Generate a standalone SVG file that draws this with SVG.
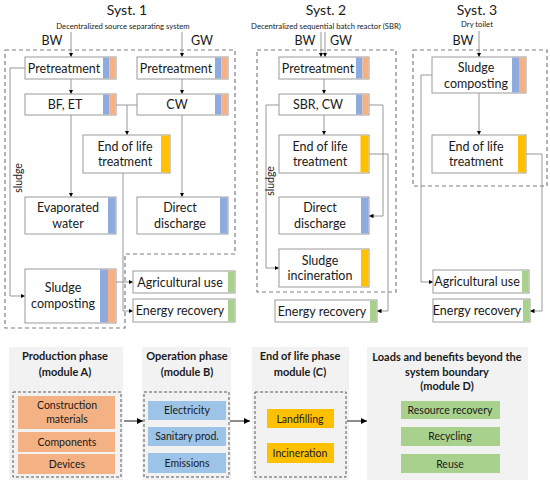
<svg xmlns="http://www.w3.org/2000/svg" width="550" height="486" viewBox="0 0 550 486">
<defs>
<marker id="ah" viewBox="0 0 6 6" refX="6" refY="3" markerWidth="4.5" markerHeight="4.5" orient="auto" markerUnits="userSpaceOnUse">
<path d="M0,0 L6,3 L0,6 Z" fill="#000"/>
</marker>
<marker id="ah2" viewBox="0 0 6 6" refX="6" refY="3" markerWidth="6" markerHeight="6" orient="auto" markerUnits="userSpaceOnUse">
<path d="M0,0 L6,3 L0,6 Z" fill="#000"/>
</marker>
<style>
text{font-family:Lato,"Open Sans","Liberation Sans",sans-serif;fill:#1a1a1a;text-anchor:middle}
.t{font-size:12.5px}
.title{font-size:14px}
.sub{font-size:7.7px}
.io{font-size:12.5px}
.box{fill:#fff;stroke:#9a9a9a;stroke-width:1}
.gbox{fill:#fff;stroke:#9a9a9a;stroke-width:1}
.b{fill:#8faadc}
.o{fill:#f4b183}
.y{fill:#ffc000}
.g{fill:#a9d18e}
.bnd{fill:none;stroke:#7f7f7f;stroke-width:1.2;stroke-dasharray:4,3}
.c{fill:none;stroke:#8c8c8c;stroke-width:0.9}
.ca{fill:none;stroke:#8c8c8c;stroke-width:0.9;marker-end:url(#ah)}
.panel{fill:#f2f2f2}
.dbox{fill:none;stroke:#595959;stroke-width:1;stroke-dasharray:3,2}
.mt{font-size:11px;font-weight:bold}
.mi{font-size:10.5px}
.ob{fill:#f4b183}
.bb{fill:#9dc3e6}
.yb{fill:#ffc000}
.gb{fill:#a9d18e}
.arr{stroke:#1a1a1a;stroke-width:1;marker-end:url(#ah2)}
.sl{font-size:10.5px}
</style>
</defs>
<rect width="550" height="486" fill="#fff"/>

<!-- Titles -->
<text class="title" x="127" y="15">Syst. 1</text>
<text class="sub" x="123" y="29">Decentralized source separating system</text>
<text class="io" x="52" y="45">BW</text>
<text class="io" x="202" y="45">GW</text>
<text class="title" x="326" y="15">Syst. 2</text>
<text class="sub" x="326" y="29">Decentralized sequential batch reactor (SBR)</text>
<text class="io" x="305" y="45">BW</text>
<text class="io" x="341" y="45">GW</text>
<text class="title" x="477" y="15">Syst. 3</text>
<text class="sub" x="477" y="27">Dry toilet</text>
<text class="io" x="463" y="45">BW</text>

<!-- Boundaries -->
<path class="bnd" d="M5,50 H235 V254 H125 V328 H5 Z"/>
<rect class="bnd" x="257" y="50" width="139" height="242"/>
<rect class="bnd" x="413" y="50" width="134" height="136"/>

<!-- Connectors -->
<g id="connectors">
<!-- Syst 1 -->
<path class="ca" d="M71,32 V57"/>
<path class="ca" d="M182,32 V57"/>
<path class="ca" d="M71,79 V94"/>
<path class="ca" d="M182,79 V94"/>
<path class="c" d="M116,105 H137"/>
<path class="ca" d="M127,105 V135"/>
<path class="ca" d="M71,115 V197"/>
<path class="ca" d="M182,115 V197"/>
<path class="ca" d="M25,68 H10 V296 H25"/>
<path class="ca" d="M123,173 V311 H133"/>
<path class="ca" d="M116,282 H133"/>
<!-- Syst 2 -->
<path class="ca" d="M321,32 V57"/>
<path class="ca" d="M325,32 V57"/>
<path class="ca" d="M324,79 V94"/>
<path class="ca" d="M324,115 V135"/>
<path class="ca" d="M279,105 H266 V268 H279"/>
<path class="ca" d="M369,105 H383 V216 H369"/>
<path class="ca" d="M369,154 H388 V311 H377"/>
<!-- Syst 3 -->
<path class="ca" d="M479,31 V57"/>
<path class="ca" d="M479,93 V135"/>
<path class="ca" d="M432,75 H421 V282 H433"/>
<path class="ca" d="M526,154 H542 V311 H530"/>
</g>

<text class="sl" transform="translate(22,178) rotate(-90)">sludge</text>
<text class="sl" transform="translate(274,181) rotate(-90)">sludge</text>

<!-- Syst 1 nodes -->
<g id="s1-pre-bw"><rect class="box" x="25" y="57" width="91" height="22"/><rect class="b" x="103" y="57.5" width="6.5" height="21"/><rect class="o" x="109.5" y="57.5" width="6" height="21"/><text class="t" x="64" y="72.5">Pretreatment</text></g>
<g id="s1-pre-gw"><rect class="box" x="137" y="57" width="91" height="22"/><rect class="b" x="215" y="57.5" width="6.5" height="21"/><rect class="o" x="221.5" y="57.5" width="6" height="21"/><text class="t" x="176" y="72.5">Pretreatment</text></g>
<g id="s1-bfet"><rect class="box" x="25" y="94" width="91" height="21"/><rect class="b" x="103" y="94.5" width="6.5" height="20"/><rect class="o" x="109.5" y="94.5" width="6" height="20"/><text class="t" x="65" y="109">BF, ET</text></g>
<g id="s1-cw"><rect class="box" x="137" y="94" width="91" height="21"/><rect class="b" x="215" y="94.5" width="6.5" height="20"/><rect class="o" x="221.5" y="94.5" width="6" height="20"/><text class="t" x="177" y="109">CW</text></g>
<g id="s1-eol"><rect class="box" x="83" y="135" width="87" height="38"/><rect class="y" x="161" y="135.5" width="8.5" height="37"/><text class="t" x="125" y="150.5">End of life</text><text class="t" x="125" y="166">treatment</text></g>
<g id="s1-evap"><rect class="box" x="25" y="197" width="91" height="37"/><rect class="b" x="108" y="197.5" width="7.5" height="36"/><text class="t" x="68" y="212">Evaporated</text><text class="t" x="68" y="227.5">water</text></g>
<g id="s1-dd"><rect class="box" x="137" y="197" width="91" height="37"/><rect class="b" x="220" y="197.5" width="7.5" height="36"/><text class="t" x="180" y="212">Direct</text><text class="t" x="180" y="227.5">discharge</text></g>
<g id="s1-sc"><rect class="box" x="25" y="269" width="91" height="54"/><rect class="b" x="100" y="269.5" width="8" height="53"/><rect class="o" x="108" y="269.5" width="7.5" height="53"/><text class="t" x="63" y="292">Sludge</text><text class="t" x="63" y="308">composting</text></g>
<g id="s1-agri"><rect class="gbox" x="133" y="271" width="102" height="22"/><rect class="g" x="228" y="271.5" width="6.5" height="21"/><text class="t" x="180" y="286.5">Agricultural use</text></g>
<g id="s1-er"><rect class="gbox" x="133" y="299" width="102" height="23"/><rect class="g" x="228" y="299.5" width="6.5" height="22"/><text class="t" x="180" y="315">Energy recovery</text></g>

<!-- Syst 2 nodes -->
<g id="s2-pre"><rect class="box" x="279" y="57" width="90" height="22"/><rect class="b" x="356" y="57.5" width="6.5" height="21"/><rect class="o" x="362.5" y="57.5" width="6" height="21"/><text class="t" x="318" y="72.5">Pretreatment</text></g>
<g id="s2-sbr"><rect class="box" x="279" y="94" width="90" height="21"/><rect class="b" x="356" y="94.5" width="6.5" height="20"/><rect class="o" x="362.5" y="94.5" width="6" height="20"/><text class="t" x="318" y="109">SBR, CW</text></g>
<g id="s2-eol"><rect class="box" x="279" y="135" width="90" height="38"/><rect class="y" x="360.5" y="135.5" width="8" height="37"/><text class="t" x="320" y="150.5">End of life</text><text class="t" x="320" y="166">treatment</text></g>
<g id="s2-dd"><rect class="box" x="279" y="197" width="90" height="37"/><rect class="b" x="361" y="197.5" width="7.5" height="36"/><text class="t" x="320" y="212">Direct</text><text class="t" x="320" y="227.5">discharge</text></g>
<g id="s2-si"><rect class="box" x="279" y="249" width="90" height="38"/><rect class="y" x="361" y="249.5" width="7.5" height="37"/><text class="t" x="320" y="264.5">Sludge</text><text class="t" x="320" y="280">incineration</text></g>
<g id="s2-er"><rect class="gbox" x="275" y="300" width="102" height="22"/><rect class="g" x="370" y="300.5" width="6.5" height="21"/><text class="t" x="322" y="315.5">Energy recovery</text></g>

<!-- Syst 3 nodes -->
<g id="s3-sc"><rect class="box" x="432" y="57" width="94" height="36"/><rect class="b" x="512" y="57.5" width="7" height="35"/><rect class="o" x="519" y="57.5" width="6.5" height="35"/><text class="t" x="476" y="72">Sludge</text><text class="t" x="476" y="87.5">composting</text></g>
<g id="s3-eol"><rect class="box" x="432" y="135" width="94" height="38"/><rect class="y" x="518" y="135.5" width="7.5" height="37"/><text class="t" x="476" y="150.5">End of life</text><text class="t" x="476" y="166">treatment</text></g>
<g id="s3-agri"><rect class="gbox" x="433" y="270" width="96" height="23"/><rect class="g" x="522" y="270.5" width="6.5" height="22"/><text class="t" x="477" y="286">Agricultural use</text></g>
<g id="s3-er"><rect class="gbox" x="433" y="299" width="97" height="23"/><rect class="g" x="523" y="299.5" width="6.5" height="22"/><text class="t" x="477" y="315">Energy recovery</text></g>

<!-- Bottom modules -->
<g id="module-a">
<rect class="panel" x="9" y="347" width="114" height="133"/>
<text class="mt" x="65" y="360">Production phase</text>
<text class="mt" x="65" y="376">(module A)</text>
<rect class="dbox" x="13" y="392" width="108" height="85"/>
<rect class="ob" x="18" y="396" width="97" height="33"/>
<text class="mi" x="67" y="409">Construction</text>
<text class="mi" x="67" y="423">materials</text>
<rect class="ob" x="18" y="432" width="97" height="20"/>
<text class="mi" x="67" y="446">Components</text>
<rect class="ob" x="18" y="454" width="97" height="20"/>
<text class="mi" x="67" y="468">Devices</text>
</g>
<g id="module-b">
<rect class="panel" x="142" y="347" width="89" height="133"/>
<text class="mt" x="187" y="360">Operation phase</text>
<text class="mt" x="187" y="376">(module B)</text>
<rect class="dbox" x="144" y="392" width="85" height="85"/>
<rect class="bb" x="148" y="401" width="78" height="19"/>
<text class="mi" x="187" y="414">Electricity</text>
<rect class="bb" x="148" y="427" width="78" height="19"/>
<text class="mi" x="187" y="440">Sanitary prod.</text>
<rect class="bb" x="148" y="453" width="78" height="20"/>
<text class="mi" x="187" y="467">Emissions</text>
</g>
<g id="module-c">
<rect class="panel" x="252" y="347" width="97" height="133"/>
<text class="mt" x="300" y="360">End of life phase</text>
<text class="mt" x="300" y="376">module (C)</text>
<rect class="dbox" x="255" y="392" width="91" height="85"/>
<rect class="yb" x="267" y="409" width="67" height="19"/>
<text class="mi" x="300" y="422.5">Landfilling</text>
<rect class="yb" x="267" y="443" width="67" height="20"/>
<text class="mi" x="300" y="457">Incineration</text>
</g>
<g id="module-d">
<rect class="panel" x="367" y="347" width="161" height="133"/>
<text class="mt" x="447" y="361">Loads and benefits beyond the</text>
<text class="mt" x="447" y="376">system boundary</text>
<text class="mt" x="447" y="390">(module D)</text>
<rect class="gb" x="401" y="401" width="99" height="18"/>
<text class="mi" x="450" y="414">Resource recovery</text>
<rect class="gb" x="401" y="427" width="99" height="19"/>
<text class="mi" x="450" y="440">Recycling</text>
<rect class="gb" x="401" y="454" width="99" height="19"/>
<text class="mi" x="450" y="467.5">Reuse</text>
</g>
<g id="module-arrows">
<path class="arr" d="M124,421 H143"/>
<path class="arr" d="M230,421 H250"/>
<path class="arr" d="M347,421 H367"/>
</g>
</svg>
